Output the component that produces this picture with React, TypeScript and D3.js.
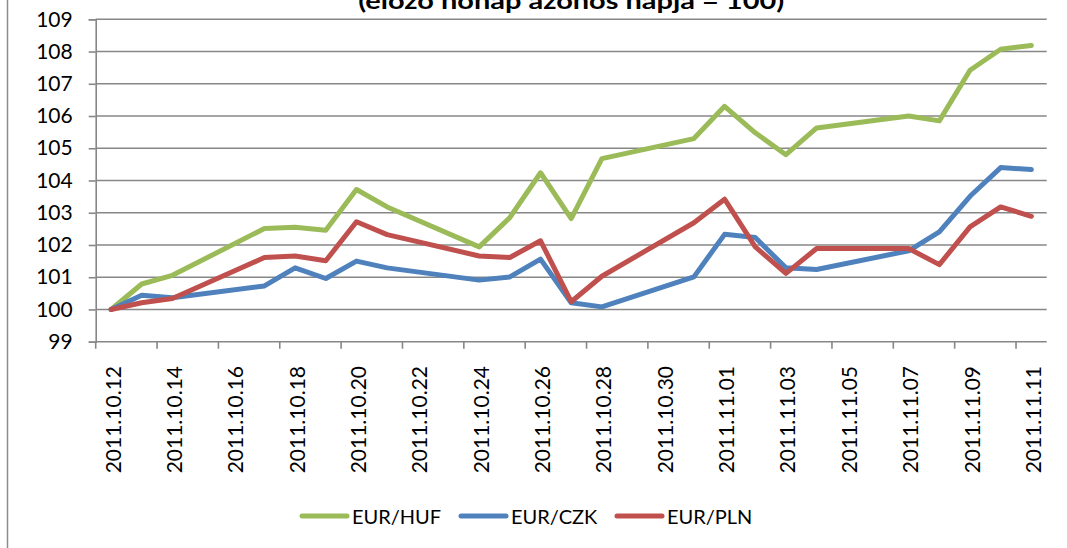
import React, { useEffect, useRef } from 'react';
import * as d3 from 'd3';

// every calendar day on the category axis
const days = [
  '2011.10.12', '2011.10.13', '2011.10.14', '2011.10.15', '2011.10.16', '2011.10.17',
  '2011.10.18', '2011.10.19', '2011.10.20', '2011.10.21', '2011.10.22', '2011.10.23',
  '2011.10.24', '2011.10.25', '2011.10.26', '2011.10.27', '2011.10.28', '2011.10.29',
  '2011.10.30', '2011.10.31', '2011.11.01', '2011.11.02', '2011.11.03', '2011.11.04',
  '2011.11.05', '2011.11.06', '2011.11.07', '2011.11.08', '2011.11.09', '2011.11.10',
  '2011.11.11',
];

// trading days with quotes
const dates = [
  '2011.10.12', '2011.10.13', '2011.10.14', '2011.10.17', '2011.10.18', '2011.10.19',
  '2011.10.20', '2011.10.21', '2011.10.24', '2011.10.25', '2011.10.26', '2011.10.27',
  '2011.10.28', '2011.10.31', '2011.11.01', '2011.11.02', '2011.11.03', '2011.11.04',
  '2011.11.07', '2011.11.08', '2011.11.09', '2011.11.10', '2011.11.11',
];

const eurHuf = [100, 100.79, 101.06, 102.51, 102.55, 102.46, 103.72, 103.18, 101.94, 102.85, 104.24, 102.82,
  104.68, 105.3, 106.3, 105.48, 104.8, 105.63, 106.0, 105.85, 107.42, 108.07, 108.19];
const eurCzk = [100, 100.44, 100.36, 100.73, 101.29, 100.96, 101.5, 101.29, 100.91, 101.01, 101.56, 100.21,
  100.08, 101.01, 102.33, 102.23, 101.29, 101.24, 101.82, 102.41, 103.51, 104.4, 104.34];
const eurPln = [100, 100.21, 100.34, 101.61, 101.66, 101.51, 102.72, 102.32, 101.66, 101.61, 102.13, 100.24,
  101.03, 102.69, 103.42, 101.94, 101.12, 101.89, 101.89, 101.39, 102.56, 103.18, 102.89];

const seriesNames = ['EUR/HUF', 'EUR/CZK', 'EUR/PLN'];
const seriesColors = ['#9BBB59', '#4F81BD', '#C0504D'];
const yTicks = [99, 100, 101, 102, 103, 104, 105, 106, 107, 108, 109];
const title = '(előző hónap azonos napja = 100)';

export default function App() {
  const ref = useRef<SVGSVGElement>(null);

  useEffect(() => {
    const svg = d3.select(ref.current);
    svg.selectAll('*').remove();

    const left = 95.7, right = 1046.7, top = 19.3, bottom = 341.7;
    const font = 'Lato, "Open Sans", sans-serif';
    const grey = '#878787';

    const x = d3.scaleBand<string>().domain(days).range([left, right]).padding(0);
    const y = d3.scaleLinear().domain([99, 109]).range([bottom, top]);
    const cx = (d: string) => (x(d) as number) + x.bandwidth() / 2;

    // outer chart border (left edge only is visible)
    svg.append('line')
      .attr('x1', 7.5).attr('x2', 7.5).attr('y1', 0).attr('y2', 548)
      .attr('stroke', '#8c8c8c').attr('stroke-width', 1.5);

    // title, cut at the top like the source image
    svg.append('text')
      .attr('x', (left + right) / 2).attr('y', 9)
      .attr('text-anchor', 'middle')
      .attr('font-family', font).attr('font-weight', 'bold').attr('font-size', 23)
      .attr('textLength', 426).attr('lengthAdjust', 'spacingAndGlyphs')
      .text(title);

    // gridlines
    svg.append('g').selectAll('line').data(yTicks.slice(1)).join('line')
      .attr('x1', left).attr('x2', right)
      .attr('y1', d => y(d)).attr('y2', d => y(d))
      .attr('stroke', grey).attr('stroke-width', 1.6);

    // y axis
    const yAxis = svg.append('g')
      .attr('transform', `translate(${left},0)`)
      .call(d3.axisLeft(y).tickValues(yTicks).tickSize(7).tickPadding(16).tickFormat(d3.format('d')));
    yAxis.select('.domain').attr('stroke', grey).attr('stroke-width', 1.6);
    yAxis.selectAll('.tick line').attr('stroke', grey).attr('stroke-width', 1.6);
    yAxis.selectAll('.tick text')
      .attr('font-family', font).attr('font-size', 21).attr('fill', '#000');

    // x axis: ticks between every second category
    const tickDays = days.filter((_, i) => i % 2 === 0);
    const xg = svg.append('g');
    xg.append('line')
      .attr('x1', left).attr('x2', right).attr('y1', bottom).attr('y2', bottom)
      .attr('stroke', grey).attr('stroke-width', 1.6);
    xg.selectAll('line.tk').data(tickDays).join('line')
      .attr('class', 'tk')
      .attr('x1', d => x(d) as number).attr('x2', d => x(d) as number)
      .attr('y1', bottom).attr('y2', bottom + 7)
      .attr('stroke', grey).attr('stroke-width', 1.6);
    xg.selectAll('text').data(tickDays).join('text')
      .attr('transform', d => `translate(${cx(d) + 1},366) rotate(-90)`)
      .attr('text-anchor', 'end')
      .attr('dominant-baseline', 'central')
      .attr('font-family', font).attr('font-size', 21)
      .text(d => d);

    // lines
    const values = [eurHuf, eurCzk, eurPln];
    const line = d3.line<number>()
      .x((_, i) => cx(dates[i]))
      .y(v => y(v));
    svg.append('g').selectAll('path').data(values).join('path')
      .attr('d', d => line(d))
      .attr('fill', 'none')
      .attr('stroke', (_, i) => seriesColors[i])
      .attr('stroke-width', 5)
      .attr('stroke-linejoin', 'round')
      .attr('stroke-linecap', 'round');

    // legend
    const legendX = [302, 461, 617];
    const lg = svg.append('g').selectAll('g').data(seriesNames).join('g')
      .attr('transform', (_, i) => `translate(${legendX[i]},516)`);
    lg.append('line')
      .attr('x1', 0).attr('x2', 45).attr('y1', 0).attr('y2', 0)
      .attr('stroke', (_, i) => seriesColors[i])
      .attr('stroke-width', 5).attr('stroke-linecap', 'round');
    lg.append('text')
      .attr('x', 50).attr('y', 0)
      .attr('dominant-baseline', 'central')
      .attr('font-family', font).attr('font-size', 20)
      .text(d => d);
  }, []);

  return (
    <svg ref={ref} width={1067} height={548}
      style={{ position: 'absolute', left: 0, top: 0, background: '#fff' }} />
  );
}
